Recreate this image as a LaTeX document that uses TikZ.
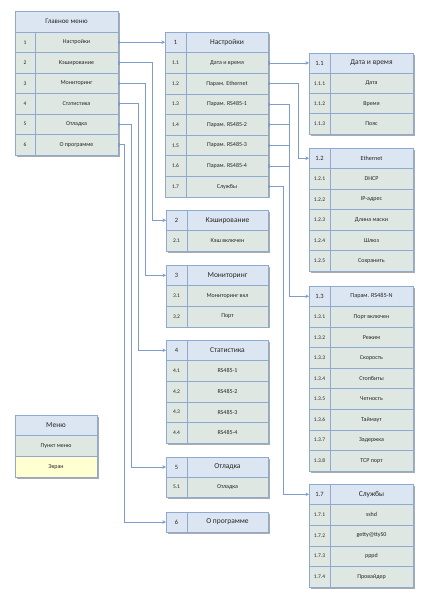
\documentclass[tikz,border=0pt]{standalone}
\usepackage{fontspec}
\setmainfont{Carlito}
\usetikzlibrary{arrows.meta,calc,shadows}
\definecolor{bordc}{HTML}{8EAAD0}
\definecolor{headc}{HTML}{DCE6F2}
\definecolor{rowc}{HTML}{DEE7E2}
\definecolor{linec}{HTML}{7F9CCB}
\definecolor{txtc}{HTML}{262626}
\definecolor{legc}{HTML}{FFFFD2}
\tikzset{
  cell/.style={draw=bordc, line width=0.6pt, minimum height=#1, inner sep=0pt, outer sep=0pt, anchor=north west,
    drop shadow={shadow xshift=1.6pt, shadow yshift=-1.6pt, fill=black!55, opacity=0.6}},
  hnumf/.style={text=txtc, font=\fontsize{6.5}{7}\selectfont, inner sep=0pt},
  htf/.style={text=txtc, font=\fontsize{7.5}{8}\selectfont, inner sep=0pt},
  numf/.style={text=txtc, font=\fontsize{5.5}{6}\selectfont, inner sep=0pt},
  rowf/.style={text=txtc, font=\fontsize{6}{7}\selectfont, inner sep=0pt},
  smallhead/.style={font=\fontsize{6.2}{7}\selectfont},
  divl/.style={draw=bordc, line width=0.6pt},
  conn/.style={draw=linec, line width=0.6pt, {Square[length=2pt,width=3pt]}-{Stealth[length=3.5pt,width=3.5pt]}},
  conns/.style={draw=linec, line width=0.6pt, {Square[length=2pt,width=3pt]}-},
}
% #1 name, #2 x, #3 y top, #4 width, #5 row height, #6 header number, #7 header title, #8 rows
\newcommand\tbl[9][]{%
  \node[cell=#6pt, minimum width=#5pt, fill=headc] (#2) at (#3,#4) {};
  \node[hnumf] at ($(#2.west)+(10.5,0)$) {#7};
  \node[htf,#1] at ($(#2.center)+(10.5,0)$) {#8};
  \foreach \n/\t [count=\i] in {#9} {
    \node[cell=#6pt, minimum width=#5pt, fill=rowc] (#2-\i) at (#3,{#4+\i*#6}) {};
    \node[numf] at ($(#2-\i.west)+(10.5,0)$) {\n};
    \node[rowf] at ($(#2-\i.center)+(10.5,0)$) {\t};
    \xdef\lastrow{#2-\i}
  }
  \draw[divl] ($(#2.north west)+(21,0)$) -- ($(\lastrow.south west)+(21,0)$);
}
\begin{document}
\begin{tikzpicture}[x=1pt,y=-1pt]
\useasboundingbox[fill=white] (0,0) rectangle (428,600);

% main menu
\node[cell=20.5pt, minimum width=103pt, fill=headc] (m) at (15,11.5) {};
\node[htf, font=\fontsize{7}{8}\selectfont] at (m.center) {Главное меню};
\foreach \n/\t [count=\i] in {1/Настройки,2/Кэширование,3/Мониторинг,4/Статистика,5/Отладка,6/О программе} {
  \node[cell=20.5pt, minimum width=103pt, fill=rowc] (m-\i) at (15,{11.5+\i*20.5}) {};
  \node[numf] at ($(m-\i.west)+(10,0)$) {\n};
  \node[rowf] at ($(m-\i.center)+(10,0)$) {\t};
}
\draw[divl] ($(m-1.north west)+(20,0)$) -- ($(m-6.south west)+(20,0)$);

% legend
\node[cell=20.7pt, minimum width=82pt, fill=headc] (lg) at (15,415) {};
\node[htf] at (lg.center) {Меню};
\node[cell=20.7pt, minimum width=82pt, fill=rowc] (lg-1) at (15,435.7) {};
\node[rowf] at (lg-1.center) {Пункт меню};
\node[cell=20.7pt, minimum width=82pt, fill=legc] (lg-2) at (15,456.4) {};
\node[rowf] at (lg-2.center) {Экран};

% sub menus
\tbl{s}{165}{32}{103}{20.6}{1}{Настройки}{1.1/Дата и время,1.2/Парам. Ethernet,1.3/Парам. RS485-1,1.4/Парам. RS485-2,1.5/Парам. RS485-3,1.6/Парам. RS485-4,1.7/Службы}
\tbl{d}{309}{53}{104}{20.25}{1.1}{Дата и время}{1.1.1/Дата,1.1.2/Время,1.1.3/Пояс}
\tbl[smallhead]{e}{309}{148}{104}{20.5}{1.2}{Ethernet}{1.2.1/DHCP,1.2.2/IP-адрес,1.2.3/Длина маски,1.2.4/Шлюз,1.2.5/Сохранить}
\tbl{c}{166}{210}{102}{20.5}{2}{Кэширование}{2.1/Кэш включен}
\tbl{mo}{166}{265}{102}{20.6}{3}{Мониторинг}{3.1/Мониторинг вкл,3.2/Порт}
\tbl{st}{166}{340}{102}{20.6}{4}{Статистика}{4.1/RS485-1,4.2/RS485-2,4.3/RS485-3,4.4/RS485-4}
\tbl{db}{166}{457}{102}{20}{5}{Отладка}{5.1/Отладка}
\tbl[smallhead]{r}{309}{286}{104}{20.55}{1.3}{Парам. RS485-N}{1.3.1/Порт включен,1.3.2/Режим,1.3.3/Скорость,1.3.4/Стопбиты,1.3.5/Четность,1.3.6/Таймаут,1.3.7/Задержка,1.3.8/TCP порт}
\tbl{sv}{309}{484}{104}{20.6}{1.7}{Службы}{1.7.1/sshd,1.7.2/getty@ttyS0,1.7.3/pppd,1.7.4/Провайдер}

% "about" box (header only)
\node[cell=20pt, minimum width=102pt, fill=headc] (ab) at (166,512) {};
\node[hnumf] at ($(ab.west)+(10.5,0)$) {6};
\node[htf] at ($(ab.center)+(10.5,0)$) {О программе};
\draw[divl] ($(ab.north west)+(21,0)$) -- ($(ab.south west)+(21,0)$);

% connectors from main menu
\draw[conn] (m-1.east) -- (m-1.east -| s.west);
\draw[conn] (m-2.east) -- ++(34,0) |- (c.west);
\draw[conn] (m-3.east) -- ++(27,0) |- (mo.west);
\draw[conn] (m-4.east) -- ++(20,0) |- (st.west);
\draw[conn] (m-5.east) -- ++(13.5,0) |- (db.west);
\draw[conn] (m-6.east) -- ++(6,0) |- (ab.west);
% connectors from settings
\draw[conn] (s-1.east) -- (s-1.east -| d.west);
\draw[conn] (s-2.east) -- ++(30.5,0) |- (e.west);
\draw[conn] (s-3.east) -- ++(21,0) |- (r.west);
\draw[conns] (s-4.east) -- ++(21,0);
\draw[conns] (s-5.east) -- ++(21,0);
\draw[conns] (s-6.east) -- ++(21,0);
\draw[conn] (s-7.east) -- ++(15,0) |- (sv.west);
\end{tikzpicture}
\end{document}
